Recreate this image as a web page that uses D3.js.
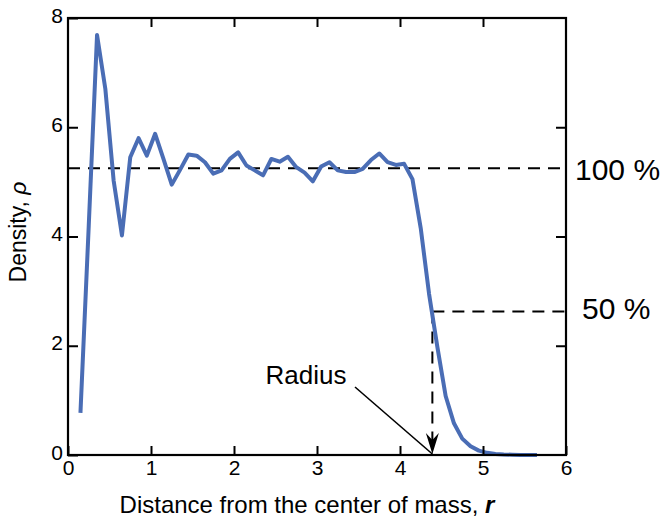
<!DOCTYPE html>
<html>
<head>
<meta charset="utf-8">
<script src="https://cdn.jsdelivr.net/npm/d3@7"></script>
<style>
  body { margin: 0; background: #fff; }
  svg { display: block; font-family: "Liberation Sans", Arial, Helvetica, sans-serif; }
</style>
</head>
<body>
<div id="chart"></div>
<script>
// density profile, r in units of distance, rho density
var radii = [
  0.15, 0.25, 0.35, 0.45, 0.55, 0.65, 0.75, 0.85, 0.95, 1.05,
  1.15, 1.25, 1.35, 1.45, 1.55, 1.65, 1.75, 1.85, 1.95, 2.05,
  2.15, 2.25, 2.35, 2.45, 2.55, 2.65, 2.75, 2.85, 2.95, 3.05,
  3.15, 3.25, 3.35, 3.45, 3.55, 3.65, 3.75, 3.85, 3.95, 4.05,
  4.15, 4.25, 4.35, 4.45, 4.55, 4.65, 4.75, 4.85, 4.95, 5.05,
  5.15, 5.25, 5.35, 5.45, 5.55, 5.65
];
var density = [
  0.77, 4.20, 7.69, 6.70, 5.02, 4.02, 5.45, 5.80, 5.48, 5.88,
  5.42, 4.95, 5.22, 5.50, 5.48, 5.36, 5.15, 5.21, 5.42, 5.54,
  5.30, 5.21, 5.12, 5.42, 5.37, 5.46, 5.27, 5.17, 5.01, 5.28,
  5.36, 5.21, 5.18, 5.18, 5.24, 5.40, 5.52, 5.36, 5.31, 5.33,
  5.05, 4.15, 2.95, 1.98, 1.08, 0.58, 0.30, 0.16, 0.08, 0.04,
  0.02, 0.01, 0.005, 0, 0, 0
];

var xTicks = [0, 1, 2, 3, 4, 5, 6];
var yTicks = [0, 2, 4, 6, 8];
var fullLevel = 5.25;        // 100 %
var halfLevel = 2.625;       // 50 %
var radiusValue = 4.39;

const WIDTH = 663;
const HEIGHT = 520;

var svg = d3.select("#chart")
    .append("svg")
    .attr("width", WIDTH)
    .attr("height", HEIGHT);

var x = d3.scaleLinear().domain([0, 6]).range([68, 566]);
var y = d3.scaleLinear().domain([0, 8]).range([455, 18]);

var data = radii.map(function (r, i) { return [r, density[i]]; });

// reference lines
var dash = "12,8";
svg.append("line")
    .attr("x1", x(0)).attr("x2", x(6))
    .attr("y1", y(fullLevel)).attr("y2", y(fullLevel))
    .attr("stroke", "#000").attr("stroke-width", 2)
    .attr("stroke-dasharray", dash);

svg.append("line")
    .attr("x1", x(radiusValue)).attr("x2", x(6))
    .attr("y1", y(halfLevel)).attr("y2", y(halfLevel))
    .attr("stroke", "#000").attr("stroke-width", 2)
    .attr("stroke-dasharray", dash);

var tipX = x(radiusValue), tipY = y(0) - 1;
svg.append("line")
    .attr("x1", tipX).attr("x2", tipX)
    .attr("y1", y(halfLevel)).attr("y2", tipY - 14)
    .attr("stroke", "#000").attr("stroke-width", 2)
    .attr("stroke-dasharray", dash);

svg.append("path")
    .attr("d", "M" + tipX + "," + tipY +
        " L" + (tipX - 6.5) + "," + (tipY - 21) +
        " L" + tipX + "," + (tipY - 14) +
        " L" + (tipX + 6.5) + "," + (tipY - 21) + " Z")
    .attr("fill", "#000");

// radius leader
svg.append("line")
    .attr("x1", 355).attr("y1", 387)
    .attr("x2", tipX).attr("y2", tipY)
    .attr("stroke", "#000").attr("stroke-width", 1.6);

svg.append("text")
    .attr("x", 306).attr("y", 384)
    .attr("text-anchor", "middle")
    .style("font-size", "26px")
    .text("Radius");

// density curve
svg.append("path")
    .datum(data)
    .attr("fill", "none")
    .attr("stroke", "#4a6db5")
    .attr("stroke-width", 4)
    .attr("stroke-linejoin", "round")
    .attr("d", d3.line()
        .x(function (d) { return x(d[0]); })
        .y(function (d) { return y(d[1]); }));

// axes with inward ticks
var gBottom = svg.append("g")
    .attr("transform", "translate(0," + y(0) + ")")
    .call(d3.axisBottom(x).tickValues(xTicks).tickFormat(d3.format("d"))
        .tickSizeInner(-9).tickSizeOuter(0).tickPadding(5));
var gLeft = svg.append("g")
    .attr("transform", "translate(" + x(0) + ",0)")
    .call(d3.axisLeft(y).tickValues(yTicks).tickFormat(d3.format("d"))
        .tickSizeInner(-10).tickSizeOuter(0).tickPadding(5));
var gTop = svg.append("g")
    .attr("transform", "translate(0," + y(8) + ")")
    .call(d3.axisTop(x).tickValues([1, 2, 3, 4, 5]).tickSizeInner(-9).tickSizeOuter(0).tickFormat(""));
var gRight = svg.append("g")
    .attr("transform", "translate(" + x(6) + ",0)")
    .call(d3.axisRight(y).tickValues([2, 4, 6]).tickSizeInner(-10).tickSizeOuter(0).tickFormat(""));

[gBottom, gLeft, gTop, gRight].forEach(function (g) {
    g.select(".domain").remove();
    g.selectAll(".tick line").attr("stroke", "#000").attr("stroke-width", 2);
    g.selectAll(".tick text")
        .attr("fill", "#000")
        .style("font-size", "21px")
        .style("font-family", "'Liberation Sans', Arial, sans-serif");
});
// left labels sit slightly above the tick line
gLeft.selectAll(".tick text").attr("dy", "0.2em");

svg.append("rect")
    .attr("x", x(0)).attr("y", y(8))
    .attr("width", x(6) - x(0))
    .attr("height", y(0) - y(8))
    .attr("fill", "none")
    .attr("stroke", "#000")
    .attr("stroke-width", 2.2);

// right labels
svg.append("text")
    .attr("x", 575).attr("y", 180)
    .style("font-size", "30px")
    .text("100 %");
svg.append("text")
    .attr("x", 582).attr("y", 319)
    .style("font-size", "30px")
    .text("50 %");

// axis titles
var xt = svg.append("text")
    .attr("x", 307).attr("y", 513)
    .attr("text-anchor", "middle")
    .style("font-size", "24px");
xt.append("tspan").text("Distance from the center of mass, ");
xt.append("tspan").style("font-weight", "bold").style("font-style", "italic").text("r");

var yt = svg.append("text")
    .attr("transform", "translate(26,232) rotate(-90)")
    .attr("text-anchor", "middle")
    .style("font-size", "23px");
yt.append("tspan").text("Density, ");
yt.append("tspan").style("font-style", "italic").text("\u03c1");
</script>
</body>
</html>
